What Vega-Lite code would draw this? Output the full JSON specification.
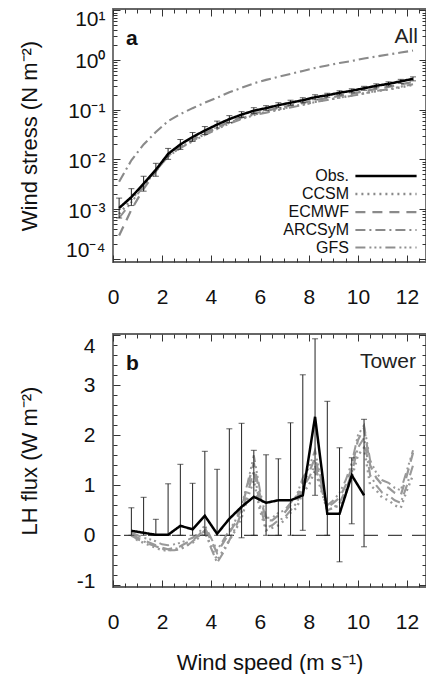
{
  "$schema": "https://vega.github.io/schema/vega-lite/v6.json",
  "autosize": {"type": "pad"},
  "padding": {"left": 17, "top": 2, "right": 1, "bottom": 0},
  "background": "white",
  "config": {
    "font": "Liberation Sans",
    "view": {"stroke": "#666", "strokeWidth": 1.8},
    "axis": {"domain": false, "grid": false, "tickColor": "#333", "tickWidth": 1, "labelColor": "#111", "labelFont": "Liberation Sans", "labelFontSize": 21, "titleFont": "Liberation Sans", "titleFontSize": 22, "titleFontWeight": "normal", "titleColor": "#111", "labelFlush": false, "labelOverlap": false, "labelBound": false}
  },
  "datasets": {
    "stress": [
      {"ws": 0.25, "obs": 0.001047, "lo": 0.00066, "hi": 0.00166, "CCSM": 0.000796, "ECMWF": 0.000293, "GFS": 0.00066, "ARCSyM": 0.00355},
      {"ws": 0.75, "obs": 0.001738, "lo": 0.001175, "hi": 0.00257, "CCSM": 0.00155, "ECMWF": 0.00097, "GFS": 0.00137, "ARCSyM": 0.00955},
      {"ws": 1.25, "obs": 0.003236, "lo": 0.00229, "hi": 0.00457, "CCSM": 0.00307, "ECMWF": 0.00256, "GFS": 0.00288, "ARCSyM": 0.01995},
      {"ws": 1.75, "obs": 0.006166, "lo": 0.00457, "hi": 0.00832, "CCSM": 0.00617, "ECMWF": 0.00573, "GFS": 0.00586, "ARCSyM": 0.03548},
      {"ws": 2.25, "obs": 0.01288, "lo": 0.01, "hi": 0.0166, "CCSM": 0.012, "ECMWF": 0.01159, "GFS": 0.01146, "ARCSyM": 0.05888},
      {"ws": 2.75, "obs": 0.01995, "lo": 0.01585, "hi": 0.02512, "CCSM": 0.01736, "ECMWF": 0.01756, "GFS": 0.01676, "ARCSyM": 0.08128},
      {"ws": 3.25, "obs": 0.02818, "lo": 0.02291, "hi": 0.03467, "CCSM": 0.02395, "ECMWF": 0.0248, "GFS": 0.02311, "ARCSyM": 0.1072},
      {"ws": 3.75, "obs": 0.03802, "lo": 0.03163, "hi": 0.0457, "CCSM": 0.03232, "ECMWF": 0.03346, "GFS": 0.0308, "ARCSyM": 0.138},
      {"ws": 4.25, "obs": 0.05012, "lo": 0.04266, "hi": 0.05888, "CCSM": 0.0426, "ECMWF": 0.0441, "GFS": 0.0406, "ARCSyM": 0.1738},
      {"ws": 4.75, "obs": 0.06457, "lo": 0.05495, "hi": 0.07586, "CCSM": 0.0549, "ECMWF": 0.0568, "GFS": 0.0523, "ARCSyM": 0.2239},
      {"ws": 5.25, "obs": 0.07943, "lo": 0.06918, "hi": 0.0912, "CCSM": 0.0667, "ECMWF": 0.0699, "GFS": 0.0643, "ARCSyM": 0.2754},
      {"ws": 5.75, "obs": 0.0955, "lo": 0.08318, "hi": 0.1096, "CCSM": 0.0802, "ECMWF": 0.084, "GFS": 0.0774, "ARCSyM": 0.3388},
      {"ws": 6.25, "obs": 0.1072, "lo": 0.0955, "hi": 0.1203, "CCSM": 0.089, "ECMWF": 0.0943, "GFS": 0.0868, "ARCSyM": 0.3981},
      {"ws": 6.75, "obs": 0.123, "lo": 0.1096, "hi": 0.138, "CCSM": 0.1021, "ECMWF": 0.1082, "GFS": 0.0984, "ARCSyM": 0.4571},
      {"ws": 7.25, "obs": 0.138, "lo": 0.123, "hi": 0.1549, "CCSM": 0.1132, "ECMWF": 0.1214, "GFS": 0.1104, "ARCSyM": 0.5248},
      {"ws": 7.75, "obs": 0.1549, "lo": 0.138, "hi": 0.1738, "CCSM": 0.127, "ECMWF": 0.1363, "GFS": 0.1239, "ARCSyM": 0.6026},
      {"ws": 8.25, "obs": 0.1778, "lo": 0.1585, "hi": 0.1995, "CCSM": 0.144, "ECMWF": 0.1565, "GFS": 0.1422, "ARCSyM": 0.6918},
      {"ws": 8.75, "obs": 0.195, "lo": 0.1778, "hi": 0.2138, "CCSM": 0.158, "ECMWF": 0.1697, "GFS": 0.156, "ARCSyM": 0.7762},
      {"ws": 9.25, "obs": 0.2188, "lo": 0.1995, "hi": 0.2399, "CCSM": 0.175, "ECMWF": 0.1904, "GFS": 0.175, "ARCSyM": 0.871},
      {"ws": 9.75, "obs": 0.2399, "lo": 0.2188, "hi": 0.263, "CCSM": 0.1919, "ECMWF": 0.2087, "GFS": 0.1895, "ARCSyM": 0.955},
      {"ws": 10.25, "obs": 0.2692, "lo": 0.2455, "hi": 0.2951, "CCSM": 0.2127, "ECMWF": 0.2342, "GFS": 0.2127, "ARCSyM": 1.072},
      {"ws": 10.75, "obs": 0.302, "lo": 0.2754, "hi": 0.3311, "CCSM": 0.2356, "ECMWF": 0.2627, "GFS": 0.2386, "ARCSyM": 1.175},
      {"ws": 11.25, "obs": 0.3311, "lo": 0.302, "hi": 0.3631, "CCSM": 0.2549, "ECMWF": 0.2881, "GFS": 0.2583, "ARCSyM": 1.288},
      {"ws": 11.75, "obs": 0.3715, "lo": 0.3388, "hi": 0.4074, "CCSM": 0.2823, "ECMWF": 0.3232, "GFS": 0.2898, "ARCSyM": 1.413},
      {"ws": 12.25, "obs": 0.4169, "lo": 0.3802, "hi": 0.4571, "CCSM": 0.3168, "ECMWF": 0.3627, "GFS": 0.3252, "ARCSyM": 1.549}
    ],
    "lh": [
      {"ws": 0.75, "CCSM": 0.0, "ECMWF": 0.02, "GFS": 0.05, "ARCSyM": 0.0},
      {"ws": 1.0, "CCSM": -0.1, "ECMWF": -0.05, "GFS": 0.0, "ARCSyM": -0.08},
      {"ws": 1.25, "CCSM": -0.15, "ECMWF": -0.1, "GFS": -0.05, "ARCSyM": -0.12},
      {"ws": 1.5, "CCSM": -0.2, "ECMWF": -0.15, "GFS": -0.08, "ARCSyM": -0.18},
      {"ws": 1.75, "CCSM": -0.25, "ECMWF": -0.2, "GFS": -0.12, "ARCSyM": -0.22},
      {"ws": 2.0, "CCSM": -0.3, "ECMWF": -0.25, "GFS": -0.18, "ARCSyM": -0.27},
      {"ws": 2.25, "CCSM": -0.3, "ECMWF": -0.28, "GFS": -0.2, "ARCSyM": -0.3},
      {"ws": 2.5, "CCSM": -0.28, "ECMWF": -0.25, "GFS": -0.18, "ARCSyM": -0.3},
      {"ws": 2.75, "CCSM": -0.25, "ECMWF": -0.22, "GFS": -0.15, "ARCSyM": -0.28},
      {"ws": 3.0, "CCSM": -0.2, "ECMWF": -0.15, "GFS": -0.1, "ARCSyM": -0.22},
      {"ws": 3.25, "CCSM": -0.15, "ECMWF": -0.1, "GFS": -0.05, "ARCSyM": -0.12},
      {"ws": 3.5, "CCSM": -0.05, "ECMWF": 0.0, "GFS": 0.05, "ARCSyM": -0.02},
      {"ws": 3.75, "CCSM": 0.05, "ECMWF": 0.15, "GFS": 0.2, "ARCSyM": 0.1},
      {"ws": 4.0, "CCSM": -0.2, "ECMWF": -0.1, "GFS": -0.05, "ARCSyM": -0.25},
      {"ws": 4.25, "CCSM": -0.5, "ECMWF": -0.35, "GFS": -0.3, "ARCSyM": -0.55},
      {"ws": 4.5, "CCSM": -0.3, "ECMWF": -0.15, "GFS": -0.1, "ARCSyM": -0.35},
      {"ws": 4.75, "CCSM": -0.1, "ECMWF": 0.05, "GFS": 0.1, "ARCSyM": -0.1},
      {"ws": 5.0, "CCSM": 0.1, "ECMWF": 0.25, "GFS": 0.3, "ARCSyM": 0.15},
      {"ws": 5.25, "CCSM": 0.35, "ECMWF": 0.55, "GFS": 0.6, "ARCSyM": 0.45},
      {"ws": 5.5, "CCSM": 0.75, "ECMWF": 1.0, "GFS": 1.05, "ARCSyM": 0.85},
      {"ws": 5.75, "CCSM": 1.1, "ECMWF": 1.45, "GFS": 1.6, "ARCSyM": 1.3},
      {"ws": 6.0, "CCSM": 0.5, "ECMWF": 0.8, "GFS": 0.9, "ARCSyM": 0.6},
      {"ws": 6.25, "CCSM": 0.1, "ECMWF": 0.3, "GFS": 0.35, "ARCSyM": 0.15},
      {"ws": 6.5, "CCSM": 0.15, "ECMWF": 0.3, "GFS": 0.35, "ARCSyM": 0.2},
      {"ws": 6.75, "CCSM": 0.2, "ECMWF": 0.4, "GFS": 0.45, "ARCSyM": 0.3},
      {"ws": 7.0, "CCSM": 0.3, "ECMWF": 0.45, "GFS": 0.5, "ARCSyM": 0.35},
      {"ws": 7.25, "CCSM": 0.45, "ECMWF": 0.6, "GFS": 0.65, "ARCSyM": 0.5},
      {"ws": 7.5, "CCSM": 0.55, "ECMWF": 0.75, "GFS": 0.8, "ARCSyM": 0.65},
      {"ws": 7.75, "CCSM": 0.85, "ECMWF": 1.05, "GFS": 1.15, "ARCSyM": 0.95},
      {"ws": 8.0, "CCSM": 1.0, "ECMWF": 1.25, "GFS": 1.35, "ARCSyM": 1.15},
      {"ws": 8.25, "CCSM": 1.3, "ECMWF": 1.55, "GFS": 1.7, "ARCSyM": 1.4},
      {"ws": 8.5, "CCSM": 0.9, "ECMWF": 1.05, "GFS": 1.1, "ARCSyM": 0.95},
      {"ws": 8.75, "CCSM": 0.5, "ECMWF": 0.55, "GFS": 0.6, "ARCSyM": 0.5},
      {"ws": 9.0, "CCSM": 0.55, "ECMWF": 0.65, "GFS": 0.7, "ARCSyM": 0.55},
      {"ws": 9.25, "CCSM": 0.6, "ECMWF": 0.75, "GFS": 0.85, "ARCSyM": 0.65},
      {"ws": 9.5, "CCSM": 0.85, "ECMWF": 1.0, "GFS": 1.1, "ARCSyM": 0.9},
      {"ws": 9.75, "CCSM": 1.15, "ECMWF": 1.35, "GFS": 1.45, "ARCSyM": 1.25},
      {"ws": 10.0, "CCSM": 1.6, "ECMWF": 1.9, "GFS": 2.0, "ARCSyM": 1.75},
      {"ws": 10.25, "CCSM": 1.75, "ECMWF": 2.15, "GFS": 2.2, "ARCSyM": 1.95},
      {"ws": 10.5, "CCSM": 1.0, "ECMWF": 1.4, "GFS": 1.5, "ARCSyM": 1.2},
      {"ws": 10.75, "CCSM": 0.9, "ECMWF": 1.15, "GFS": 1.25, "ARCSyM": 1.0},
      {"ws": 11.0, "CCSM": 0.75, "ECMWF": 1.0, "GFS": 1.1, "ARCSyM": 0.85},
      {"ws": 11.25, "CCSM": 0.7, "ECMWF": 0.95, "GFS": 1.05, "ARCSyM": 0.8},
      {"ws": 11.5, "CCSM": 0.6, "ECMWF": 0.85, "GFS": 0.95, "ARCSyM": 0.7},
      {"ws": 11.75, "CCSM": 0.55, "ECMWF": 0.8, "GFS": 0.9, "ARCSyM": 0.65},
      {"ws": 12.0, "CCSM": 0.9, "ECMWF": 1.2, "GFS": 1.3, "ARCSyM": 1.0},
      {"ws": 12.25, "CCSM": 1.2, "ECMWF": 1.65, "GFS": 1.7, "ARCSyM": 1.4}
    ],
    "lhObs": [
      {"ws": 0.75, "obs": 0.09, "lo": 0, "hi": 0.55},
      {"ws": 1.25, "obs": 0.05, "lo": 0, "hi": 0.76},
      {"ws": 1.75, "obs": 0.01, "lo": 0, "hi": 0.32},
      {"ws": 2.25, "obs": 0.01, "lo": 0, "hi": 1.03},
      {"ws": 2.75, "obs": 0.19, "lo": 0, "hi": 1.42},
      {"ws": 3.25, "obs": 0.12, "lo": 0, "hi": 1.04},
      {"ws": 3.75, "obs": 0.39, "lo": 0, "hi": 1.68},
      {"ws": 4.25, "obs": 0.03, "lo": 0, "hi": 1.32},
      {"ws": 4.75, "obs": 0.33, "lo": 0, "hi": 2.13},
      {"ws": 5.25, "obs": 0.57, "lo": -0.05, "hi": 2.24},
      {"ws": 5.75, "obs": 0.77, "lo": 0, "hi": 1.7},
      {"ws": 6.25, "obs": 0.65, "lo": 0, "hi": 1.61},
      {"ws": 6.75, "obs": 0.7, "lo": 0, "hi": 1.53},
      {"ws": 7.25, "obs": 0.7, "lo": 0, "hi": 2.25},
      {"ws": 7.75, "obs": 0.8, "lo": 0.1, "hi": 3.21},
      {"ws": 8.25, "obs": 2.37, "lo": 0.8, "hi": 3.93},
      {"ws": 8.75, "obs": 0.43, "lo": 0, "hi": 2.68},
      {"ws": 9.25, "obs": 0.43, "lo": -0.53, "hi": 1.75},
      {"ws": 9.75, "obs": 1.2, "lo": 0.23, "hi": 1.55},
      {"ws": 10.25, "obs": 0.8, "lo": -0.23, "hi": 2.32}
    ]
  },
  "spacing": 72,
  "bounds": "flush",
  "resolve": {"scale": {"color": "independent", "strokeDash": "independent", "strokeWidth": "independent"}},
  "vconcat": [
    {
      "width": 313,
      "height": 253,
      "resolve": {"axis": {"x": "independent", "y": "independent"}},
      "layer": [
        {
          "data": {"name": "stress"},
          "transform": [{"fold": ["CCSM", "ECMWF", "ARCSyM", "GFS"], "as": ["src", "val"]}],
          "mark": {"type": "line", "clip": true},
          "encoding": {
            "x": {"field": "ws", "type": "quantitative", "scale": {"domain": [0, 12.78], "nice": false, "zero": false},
              "axis": {"orient": "bottom", "values": [0,0.5,1,1.5,2,2.5,3,3.5,4,4.5,5,5.5,6,6.5,7,7.5,8,8.5,9,9.5,10,10.5,11,11.5,12,12.5], "labelExpr": "datum.value % 2 == 0 ? '' + datum.value : ''", "tickSize": {"condition": {"test": "datum.value % 2 == 0", "value": -7}, "value": -4}, "labelPadding": 31, "title": null}},
            "y": {"field": "val", "type": "quantitative", "scale": {"type": "log", "domain": [0.0000859, 10.62], "nice": false},
              "axis": {"orient": "left", "values": [0.0001,0.0002,0.0003,0.0004,0.0005,0.0006,0.0007,0.0008,0.0009,0.001,0.002,0.003,0.004,0.005,0.006,0.007,0.008,0.009,0.01,0.02,0.03,0.04,0.05,0.06,0.07,0.08,0.09,0.1,0.2,0.3,0.4,0.5,0.6,0.7,0.8,0.9,1,2,3,4,5,6,7,8,9,10],
                "labelExpr": "datum.value == 10 ? '10¹' : datum.value == 1 ? '10⁰' : datum.value == 0.1 ? '10⁻¹' : datum.value == 0.01 ? '10⁻²' : datum.value == 0.001 ? '10⁻³' : datum.value == 0.0001 ? '10⁻⁴' : ''",
                "labelOffset": {"condition": [{"test": "datum.value == 10", "value": 9}, {"test": "datum.value == 0.0001", "value": -8}], "value": 2},
                "tickSize": {"condition": {"test": "datum.value == 10 || datum.value == 1 || datum.value == 0.1 || datum.value == 0.01 || datum.value == 0.001 || datum.value == 0.0001", "value": -7}, "value": -4},
                "labelPadding": 15, "title": "Wind stress (N m⁻²)", "titleAngle": -90, "titleBaseline": "middle", "titleAlign": "center", "titleX": -84}},
            "color": {"field": "src", "type": "nominal", "scale": {"domain": ["Obs.", "CCSM", "ECMWF", "ARCSyM", "GFS"], "range": ["#000000", "#8a8a8a", "#8a8a8a", "#8a8a8a", "#8f8f8f"]},
              "legend": {"orient": "none", "legendX": 263, "legendY": 157, "title": null, "symbolType": "M-3.6,0H3.6", "symbolSize": 289, "labelAlign": "right", "labelOffset": -47, "labelFontSize": 16, "labelFont": "Liberation Sans", "labelColor": "#111", "rowPadding": 0, "padding": 0, "labelLimit": 0}},
            "strokeDash": {"field": "src", "type": "nominal", "scale": {"domain": ["Obs.", "CCSM", "ECMWF", "ARCSyM", "GFS"], "range": [[1, 0], [2, 4], [10, 7], [10, 4, 2, 4], [10, 4, 2, 3, 2, 3, 2, 4]]}},
            "strokeWidth": {"field": "src", "type": "nominal", "scale": {"domain": ["Obs.", "CCSM", "ECMWF", "ARCSyM", "GFS"], "range": [2.5, 2, 2, 2, 2.5]}}
          }
        },
        {
          "data": {"name": "stress"},
          "mark": {"type": "errorbar", "ticks": {"size": 6, "color": "#222"}, "rule": {"color": "#222", "strokeWidth": 1}},
          "encoding": {
            "x": {"field": "ws", "type": "quantitative", "axis": null},
            "y": {"field": "lo", "type": "quantitative", "axis": null},
            "y2": {"field": "hi"}
          }
        },
        {
          "data": {"name": "stress"},
          "mark": {"type": "line"},
          "encoding": {
            "x": {"field": "ws", "type": "quantitative", "axis": null},
            "y": {"field": "obs", "type": "quantitative", "axis": null},
            "color": {"datum": "Obs.", "type": "nominal"},
            "strokeDash": {"datum": "Obs.", "type": "nominal"},
            "strokeWidth": {"datum": "Obs.", "type": "nominal"}
          }
        },
        {
          "data": {"values": [{}]},
          "mark": {"type": "text", "text": "a", "align": "left", "baseline": "middle", "fontSize": 21, "fontWeight": "bold", "font": "Liberation Sans", "color": "#111"},
          "encoding": {
            "x": {"datum": 0.53, "type": "quantitative", "axis": null},
            "y": {"datum": 2.68, "type": "quantitative", "axis": null}
          }
        },
        {
          "data": {"values": [{}]},
          "mark": {"type": "text", "text": "All", "align": "right", "baseline": "middle", "fontSize": 21, "font": "Liberation Sans", "color": "#222"},
          "encoding": {
            "x": {"datum": 12.45, "type": "quantitative",
              "axis": {"orient": "top", "values": [0,0.5,1,1.5,2,2.5,3,3.5,4,4.5,5,5.5,6,6.5,7,7.5,8,8.5,9,9.5,10,10.5,11,11.5,12,12.5], "labels": false, "tickSize": {"condition": {"test": "datum.value % 2 == 0", "value": -7}, "value": -4}, "title": null}},
            "y": {"datum": 2.9, "type": "quantitative",
              "axis": {"orient": "right", "values": [0.0001,0.0002,0.0003,0.0004,0.0005,0.0006,0.0007,0.0008,0.0009,0.001,0.002,0.003,0.004,0.005,0.006,0.007,0.008,0.009,0.01,0.02,0.03,0.04,0.05,0.06,0.07,0.08,0.09,0.1,0.2,0.3,0.4,0.5,0.6,0.7,0.8,0.9,1,2,3,4,5,6,7,8,9,10], "labels": false,
                "tickSize": {"condition": {"test": "datum.value == 10 || datum.value == 1 || datum.value == 0.1 || datum.value == 0.01 || datum.value == 0.001 || datum.value == 0.0001", "value": -7}, "value": -4}, "title": null}}
          }
        }
      ]
    },
    {
      "width": 313,
      "height": 253,
      "resolve": {"axis": {"x": "independent", "y": "independent"}},
      "layer": [
        {
          "data": {"values": [{}]},
          "mark": {"type": "rule", "color": "#444", "strokeWidth": 1.2, "strokeDash": [14, 10]},
          "encoding": {
            "y": {"datum": 0, "type": "quantitative", "axis": null}
          }
        },
        {
          "data": {"name": "lh"},
          "transform": [{"fold": ["CCSM", "ECMWF", "ARCSyM", "GFS"], "as": ["src", "val"]}],
          "mark": {"type": "line", "clip": true},
          "encoding": {
            "x": {"field": "ws", "type": "quantitative", "scale": {"domain": [0, 12.78], "nice": false, "zero": false},
              "axis": {"orient": "bottom", "values": [0,0.5,1,1.5,2,2.5,3,3.5,4,4.5,5,5.5,6,6.5,7,7.5,8,8.5,9,9.5,10,10.5,11,11.5,12,12.5], "labelExpr": "datum.value % 2 == 0 ? '' + datum.value : ''", "tickSize": {"condition": {"test": "datum.value % 2 == 0", "value": -7}, "value": -4}, "labelPadding": 31,
                "title": "Wind speed (m s⁻¹)", "titleBaseline": "middle", "titleY": 75}},
            "y": {"field": "val", "type": "quantitative", "scale": {"domain": [-1.034, 4.026], "nice": false, "zero": false},
              "axis": {"orient": "left", "values": [-1,-0.8,-0.6,-0.4,-0.2,0,0.2,0.4,0.6,0.8,1,1.2,1.4,1.6,1.8,2,2.2,2.4,2.6,2.8,3,3.2,3.4,3.6,3.8,4],
                "labelExpr": "datum.value == round(datum.value) ? '' + datum.value : ''",
                "labelOffset": {"condition": [{"test": "datum.value == 4", "value": 11}, {"test": "datum.value == -1", "value": -4}], "value": 0},
                "tickSize": {"condition": {"test": "datum.value == round(datum.value)", "value": -7}, "value": -4},
                "labelPadding": 25, "title": "LH flux (W m⁻²)", "titleAngle": -90, "titleBaseline": "middle", "titleAlign": "center", "titleX": -84}},
            "color": {"field": "src", "type": "nominal", "scale": {"domain": ["Obs.", "CCSM", "ECMWF", "ARCSyM", "GFS"], "range": ["#000000", "#999999", "#999999", "#999999", "#999999"]}, "legend": null},
            "strokeDash": {"field": "src", "type": "nominal", "scale": {"domain": ["Obs.", "CCSM", "ECMWF", "ARCSyM", "GFS"], "range": [[1, 0], [2, 4], [10, 7], [10, 4, 2, 4], [10, 4, 2, 3, 2, 3, 2, 4]]}, "legend": null},
            "strokeWidth": {"field": "src", "type": "nominal", "scale": {"domain": ["Obs.", "CCSM", "ECMWF", "ARCSyM", "GFS"], "range": [2.5, 2, 2, 2, 2.2]}, "legend": null}
          }
        },
        {
          "data": {"name": "lhObs"},
          "mark": {"type": "errorbar", "ticks": {"size": 6, "color": "#222"}, "rule": {"color": "#222", "strokeWidth": 1}},
          "encoding": {
            "x": {"field": "ws", "type": "quantitative", "axis": null},
            "y": {"field": "lo", "type": "quantitative", "axis": null},
            "y2": {"field": "hi"}
          }
        },
        {
          "data": {"name": "lhObs"},
          "mark": {"type": "line"},
          "encoding": {
            "x": {"field": "ws", "type": "quantitative", "axis": null},
            "y": {"field": "obs", "type": "quantitative", "axis": null},
            "color": {"datum": "Obs.", "type": "nominal", "legend": null},
            "strokeDash": {"datum": "Obs.", "type": "nominal", "legend": null},
            "strokeWidth": {"datum": "Obs.", "type": "nominal", "legend": null}
          }
        },
        {
          "data": {"values": [{}]},
          "mark": {"type": "text", "text": "b", "align": "left", "baseline": "middle", "fontSize": 21, "fontWeight": "bold", "font": "Liberation Sans", "color": "#111"},
          "encoding": {
            "x": {"datum": 0.53, "type": "quantitative", "axis": null},
            "y": {"datum": 3.43, "type": "quantitative", "axis": null}
          }
        },
        {
          "data": {"values": [{}]},
          "mark": {"type": "text", "text": "Tower", "align": "right", "baseline": "middle", "fontSize": 21, "font": "Liberation Sans", "color": "#222"},
          "encoding": {
            "x": {"datum": 12.37, "type": "quantitative",
              "axis": {"orient": "top", "values": [0,0.5,1,1.5,2,2.5,3,3.5,4,4.5,5,5.5,6,6.5,7,7.5,8,8.5,9,9.5,10,10.5,11,11.5,12,12.5], "labels": false, "tickSize": {"condition": {"test": "datum.value % 2 == 0", "value": -7}, "value": -4}, "title": null}},
            "y": {"datum": 3.47, "type": "quantitative",
              "axis": {"orient": "right", "values": [-1,-0.8,-0.6,-0.4,-0.2,0,0.2,0.4,0.6,0.8,1,1.2,1.4,1.6,1.8,2,2.2,2.4,2.6,2.8,3,3.2,3.4,3.6,3.8,4], "labels": false,
                "tickSize": {"condition": {"test": "datum.value == round(datum.value)", "value": -7}, "value": -4}, "title": null}}
          }
        }
      ]
    }
  ]
}
